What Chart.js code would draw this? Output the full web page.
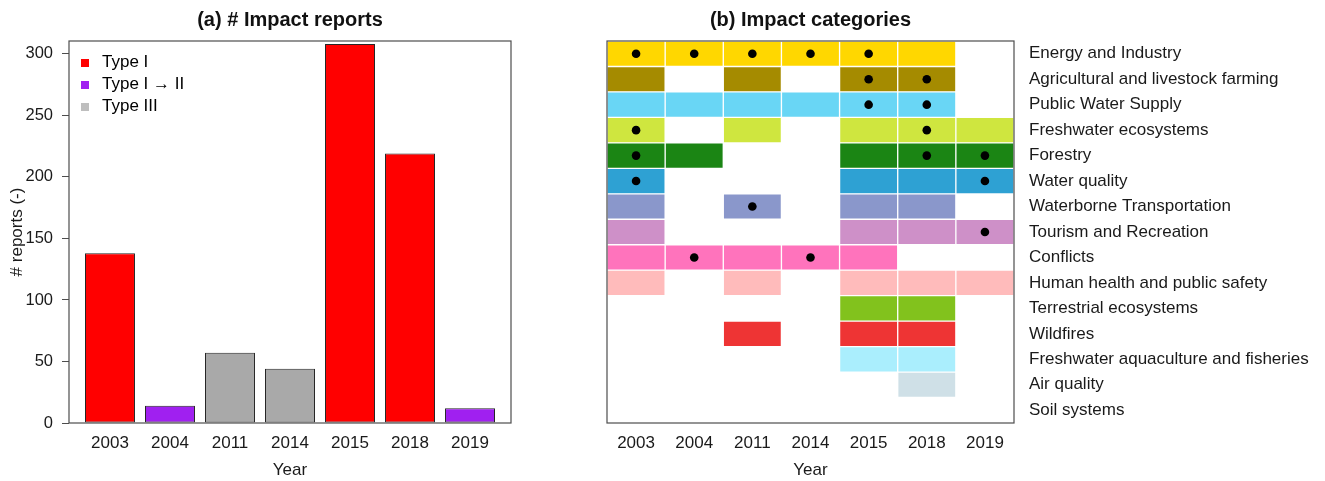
<!DOCTYPE html>
<html>
<head>
<meta charset="utf-8">
<script src="https://cdn.jsdelivr.net/npm/chart.js@4"></script>
<style>
  html, body { margin: 0; padding: 0; background: #fff; }
  #wrap { position: relative; width: 1325px; height: 481px; }
  #reportsChart { position: absolute; left: 0; top: 0; }
  #categoriesChart { position: absolute; left: 560px; top: 0; }
</style>
</head>
<body>
<div id="wrap">
  <canvas id="reportsChart" width="560" height="481"></canvas>
  <canvas id="categoriesChart" width="765" height="481"></canvas>
</div>
<script>
// Panel (a): number of impact reports per drought year
const years = ['2003', '2004', '2011', '2014', '2015', '2018', '2019'];
const reportCounts = [138, 14, 57, 44, 308, 219, 12];
const reportType = [0, 1, 2, 2, 0, 0, 1]; // index into typeLabels
const typeLabels = ['Type I', 'Type I \u2192 II', 'Type III'];
const typeColors = ['#ff0000', '#a020f0', '#a9a9a9'];
const typeLegendColors = ['#ff0000', '#a020f0', '#bebebe'];
const yTicks = [0, 50, 100, 150, 200, 250, 300];

// Panel (b): impact categories per year
const categories = [
  'Energy and Industry',
  'Agricultural and livestock farming',
  'Public Water Supply',
  'Freshwater ecosystems',
  'Forestry',
  'Water quality',
  'Waterborne Transportation',
  'Tourism and Recreation',
  'Conflicts',
  'Human health and public safety',
  'Terrestrial ecosystems',
  'Wildfires',
  'Freshwater aquaculture and fisheries',
  'Air quality',
  'Soil systems'
];
const categoryColors = [
  '#ffd700', '#a58b00', '#69d6f5', '#cfe63f', '#1b8514',
  '#2ea1d3', '#8a97cb', '#ce90c8', '#ff73bc', '#ffbbbb',
  '#82c21d', '#ee3434', '#aaeefd', '#cfe0e7', '#c8a27a'
];
// 0 = not reported, 1 = reported, 2 = reported and marked with a dot
// columns follow `years`
const impactGrid = [
  [2, 2, 2, 2, 2, 1, 0],
  [1, 0, 1, 0, 2, 2, 0],
  [1, 1, 1, 1, 2, 2, 0],
  [2, 0, 1, 0, 1, 2, 1],
  [2, 1, 0, 0, 1, 2, 2],
  [2, 0, 0, 0, 1, 1, 2],
  [1, 0, 2, 0, 1, 1, 0],
  [1, 0, 0, 0, 1, 1, 2],
  [1, 2, 1, 2, 1, 0, 0],
  [1, 0, 1, 0, 1, 1, 1],
  [0, 0, 0, 0, 1, 1, 0],
  [0, 0, 1, 0, 1, 1, 0],
  [0, 0, 0, 0, 1, 1, 0],
  [0, 0, 0, 0, 0, 1, 0],
  [0, 0, 0, 0, 0, 0, 0]
];

Chart.defaults.font.family = '"Liberation Sans", Arial, sans-serif';
Chart.defaults.color = '#1a1a1a';
Chart.defaults.animation = false;

// box around the plotting region, like R's box()
const framePlugin = {
  id: 'frame',
  afterDatasetsDraw(chart) {
    const a = chart.chartArea;
    const ctx = chart.ctx;
    ctx.save();
    ctx.strokeStyle = '#4d4d4d';
    ctx.lineWidth = 1.2;
    ctx.strokeRect(a.left, a.top, a.right - a.left, a.bottom - a.top);
    ctx.restore();
  }
};

// legend sits inside the plot, top-left corner
const legendInset = {
  id: 'legendInset',
  afterLayout(chart) {
    const lg = chart.legend;
    if (!lg) return;
    lg.left = chart.chartArea.left + 2.5;
    lg.top = chart.chartArea.top + 8;
  }
};

// small square swatch, centred in a wider box so the text sits further right
function swatch(color) {
  const c = document.createElement('canvas');
  c.width = 8;
  c.height = 8;
  const g = c.getContext('2d');
  g.fillStyle = color;
  g.fillRect(0, 0, 8, 8);
  return c;
}

const panelTitle = (text) => ({
  display: true,
  text: text,
  fullSize: false,
  color: '#111',
  font: { size: 20, weight: 'bold' },
  padding: { top: 8, bottom: 9 }
});

const yearAxisTitle = {
  display: true,
  text: 'Year',
  font: { size: 17 },
  padding: { top: 0, bottom: 0 }
};

// (a) bar chart
new Chart(document.getElementById('reportsChart'), {
  type: 'bar',
  data: {
    datasets: [{
      data: reportCounts.map((v, i) => ({ x: i, y: v })),
      backgroundColor: reportType.map(t => typeColors[t]),
      borderColor: '#262626',
      borderWidth: 1,
      borderSkipped: false,
      barPercentage: 0.833,
      categoryPercentage: 1
    }]
  },
  options: {
    responsive: false,
    layout: { padding: { left: 0, right: 49, top: 0, bottom: 0 } },
    scales: {
      x: {
        type: 'linear',
        min: -0.683,
        max: 6.683,
        offset: false,
        afterBuildTicks: ax => { ax.ticks = years.map((y, i) => ({ value: i })); },
        afterFit: ax => { ax.height = 58; },
        grid: { display: false, drawTicks: false, offset: false },
        border: { display: false },
        ticks: {
          callback: (v, i) => years[i],
          padding: 10,
          maxRotation: 0,
          autoSkip: false,
          font: { size: 17 }
        },
        title: yearAxisTitle
      },
      y: {
        min: 0,
        max: 310.5,
        afterBuildTicks: ax => { ax.ticks = yTicks.map(v => ({ value: v })); },
        afterFit: ax => { ax.width = 69; },
        grid: { drawOnChartArea: false, drawTicks: true, tickLength: 7, color: '#4d4d4d' },
        border: { display: false },
        ticks: { padding: 9, font: { size: 16.5 } },
        title: {
          display: true,
          text: '# reports (-)',
          font: { size: 17 },
          padding: { top: 7, bottom: 0 }
        }
      }
    },
    plugins: {
      title: panelTitle('(a) # Impact reports'),
      tooltip: { enabled: false },
      legend: {
        position: 'chartArea',
        align: 'start',
        labels: {
          usePointStyle: true,
          pointStyleWidth: 17,
          boxWidth: 17,
          boxHeight: 8,
          padding: 5,
          font: { size: 17 },
          color: '#1a1a1a',
          generateLabels: () => typeLabels.map((t, i) => ({
            text: t,
            fillStyle: typeLegendColors[i],
            strokeStyle: typeLegendColors[i],
            lineWidth: 0,
            pointStyle: swatch(typeLegendColors[i]),
            hidden: false,
            datasetIndex: 0
          }))
        }
      }
    }
  },
  plugins: [framePlugin, legendInset]
});

// (b) category grid: one floating-bar dataset per year, dots as scatter
const cellDatasets = years.map((yr, col) => ({
  type: 'bar',
  label: yr,
  indexAxis: 'y',
  data: impactGrid.map(row => (row[col] > 0 ? [col, col + 1] : null)),
  backgroundColor: categoryColors,
  borderColor: 'rgba(255,255,255,0.6)',
  borderWidth: 1,
  borderSkipped: false,
  grouped: false,
  barPercentage: 1,
  categoryPercentage: 1,
  xAxisID: 'x',
  yAxisID: 'y',
  order: 2
}));

const dotPoints = [];
impactGrid.forEach((row, r) => row.forEach((v, c) => {
  if (v === 2) dotPoints.push({ x: c + 0.5, y: categories[r] });
}));

new Chart(document.getElementById('categoriesChart'), {
  type: 'bar',
  data: {
    labels: categories,
    datasets: [
      ...cellDatasets,
      {
        type: 'scatter',
        data: dotPoints,
        backgroundColor: '#000',
        borderWidth: 0,
        pointRadius: 4.3,
        xAxisID: 'x',
        yAxisID: 'y',
        order: 0
      }
    ]
  },
  options: {
    responsive: false,
    indexAxis: 'y',
    layout: { padding: { left: 47, right: 0, top: 0, bottom: 0 } },
    scales: {
      x: {
        type: 'linear',
        position: 'bottom',
        min: 0,
        max: years.length,
        offset: false,
        afterBuildTicks: ax => { ax.ticks = years.map((y, i) => ({ value: i + 0.5 })); },
        afterFit: ax => { ax.height = 58; },
        grid: { display: false, drawTicks: false, offset: false },
        border: { display: false },
        ticks: {
          callback: (v, i) => years[i],
          padding: 10,
          maxRotation: 0,
          autoSkip: false,
          font: { size: 17 }
        },
        title: yearAxisTitle
      },
      y: {
        type: 'category',
        position: 'right',
        offset: true,
        afterFit: ax => { ax.width = 311; },
        grid: { display: false, drawTicks: false },
        border: { display: false },
        ticks: { padding: 15, autoSkip: false, font: { size: 17 }, color: '#1a1a1a' }
      }
    },
    plugins: {
      title: panelTitle('(b) Impact categories'),
      legend: { display: false },
      tooltip: { enabled: false }
    }
  },
  plugins: [framePlugin]
});
</script>
</body>
</html>
